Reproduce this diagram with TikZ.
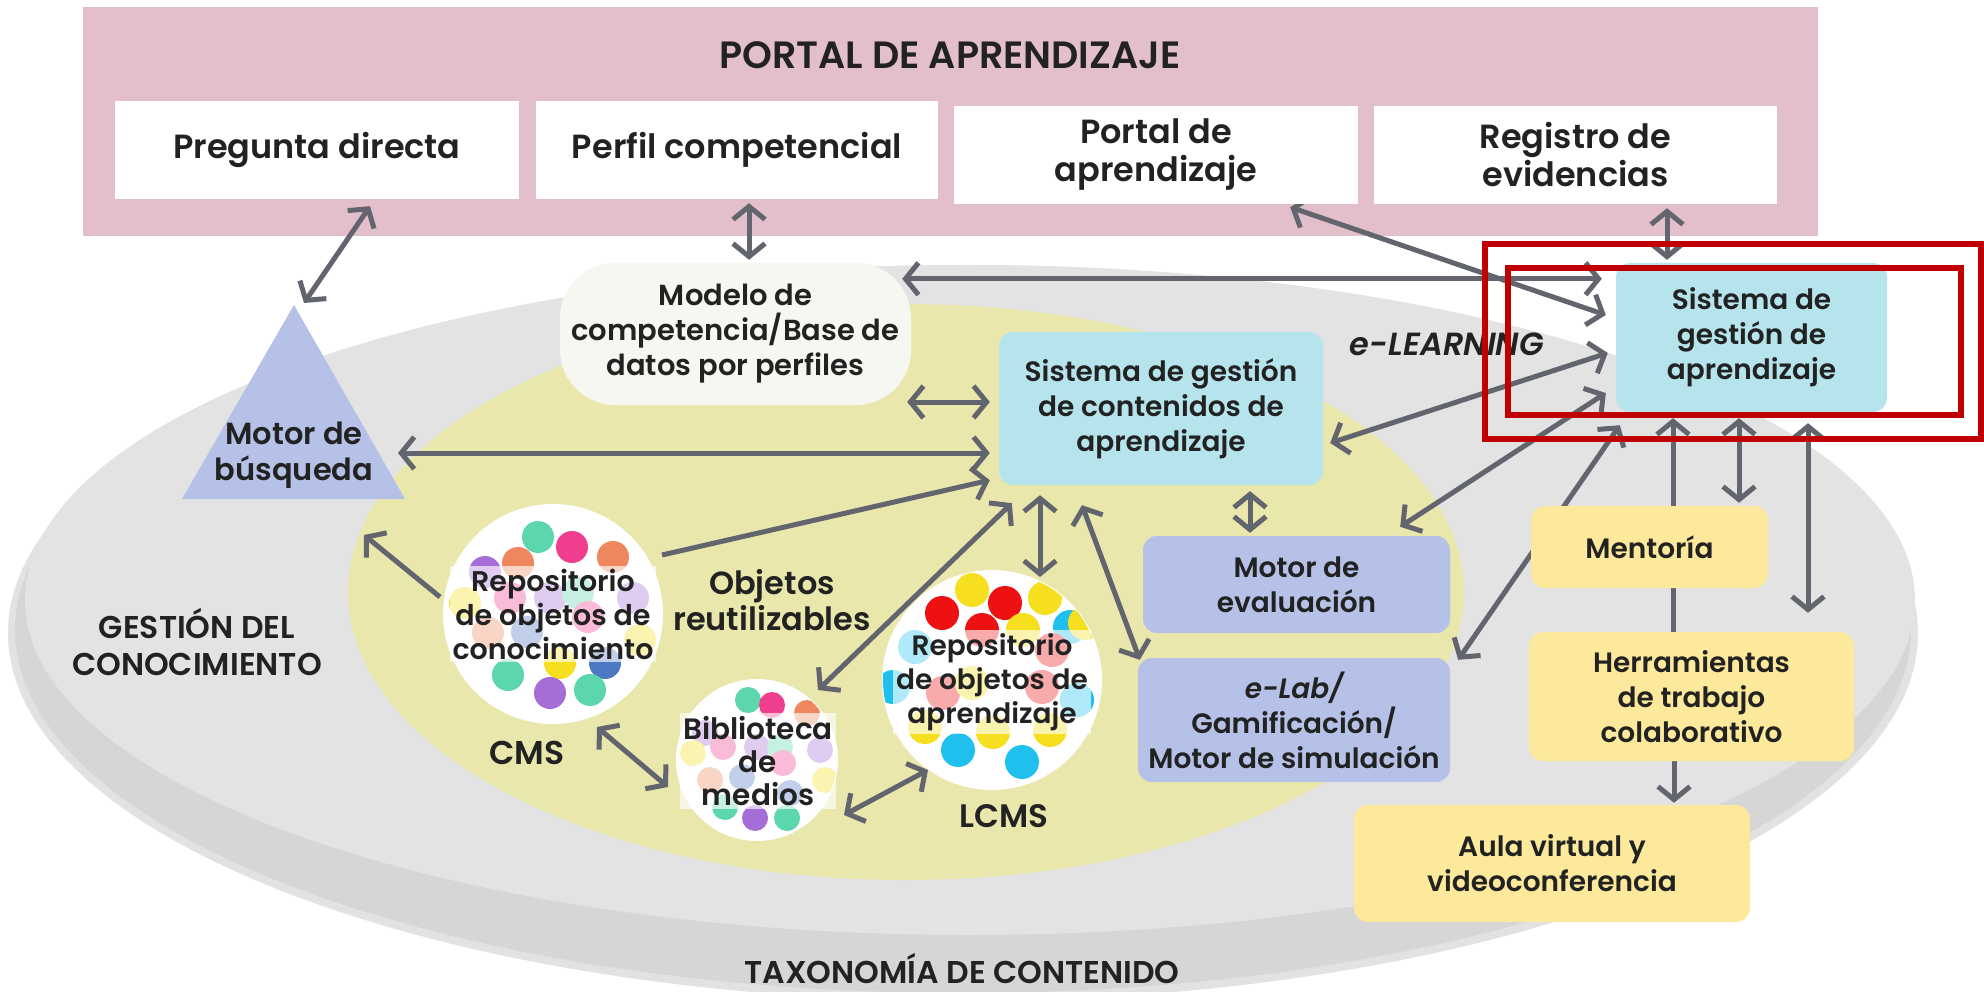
\documentclass[tikz,border=0pt]{standalone}
\usepackage{fontspec}
\setmainfont{Poppins}[BoldFont={Poppins SemiBold},BoldItalicFont={Poppins SemiBold Italic}]
\usetikzlibrary{arrows.meta,calc}

\pgfdeclarelayer{back}
\pgfdeclarelayer{conn}
\pgfdeclarelayer{top}
\pgfsetlayers{back,conn,main,top}

\definecolor{pinkband}{HTML}{E3BFCB}
\definecolor{greyell}{HTML}{E3E3E3}
\definecolor{greysha}{HTML}{D6D6D6}
\definecolor{greyshb}{HTML}{E2E2E2}
\definecolor{yell}{HTML}{EAE7AD}
\definecolor{cyanbox}{HTML}{B6E4EC}
\definecolor{peri}{HTML}{B5C1E6}
\definecolor{yelfill}{HTML}{FDE99B}
\definecolor{arrowc}{HTML}{62646E}
\definecolor{txtc}{HTML}{222222}
\definecolor{modelc}{HTML}{F7F7F2}
\definecolor{redann}{HTML}{C00000}
% dot colours
\definecolor{dgreen}{HTML}{5CD6AC}
\definecolor{dpink}{HTML}{EE3E8D}
\definecolor{dorange}{HTML}{EF875E}
\definecolor{dpurple}{HTML}{A56DD6}
\definecolor{dyellow}{HTML}{F5DF1E}
\definecolor{dblue}{HTML}{4E78C4}
\definecolor{dred}{HTML}{EE1111}
\definecolor{dsky}{HTML}{1FC0EE}

\newcommand{\blob}[4]{\fill[#3] (#1,#2) circle[radius=#4pt];}
\newcommand{\fsz}[2]{\fontsize{#1}{#2}\selectfont\bfseries}

\tikzset{
  lbl/.style={text=txtc, align=center, inner sep=0pt, font=\fsz{28}{35}},
  big/.style={font=\fsz{33.5}{38}},
  whitebox/.style={lbl, big, fill=white, minimum height=98pt},
  cbox/.style={lbl, fill=cyanbox, rounded corners=14pt},
  pbox/.style={lbl, fill=peri, rounded corners=14pt},
  yelbox/.style={lbl, fill=yelfill, rounded corners=14pt},
  repo/.style={circle, fill=white, inner sep=0pt},
  veil/.style={lbl, font=\fsz{28.5}{34}, fill=white, fill opacity=0.65, text opacity=1, inner sep=3pt},
  conn/.style={draw=arrowc, line width=5pt},
  tipb/.tip={Straight Barb[length=13pt,width=32pt]},
  bi/.style={conn, tipb-tipb},
  uni/.style={conn, -tipb},
  annot/.style={draw=redann, line width=6pt},
}

\begin{document}
\begin{tikzpicture}[x=1pt,y=-1pt]
\useasboundingbox (0,0) rectangle (1984,992);

% ---------- background areas ----------
\begin{pgfonlayer}{back}
  \fill[white] (0,0) rectangle (1984,992);
  \node[fill=pinkband, minimum width=1735pt, minimum height=229pt, inner sep=0pt] (band) at (950.5,121.5) {};
  % knowledge management ellipse with its shadow
  \fill[greyshb] (963,633) ellipse[x radius=955pt, y radius=368pt];
  \fill[greysha] (963,630) ellipse[x radius=948pt, y radius=363pt];
  \fill[greyell] (970,600) ellipse[x radius=945pt, y radius=335pt];
  % e-learning ellipse
  \fill[yell] (906,592) ellipse[x radius=558pt, y radius=288pt];
\end{pgfonlayer}

% ---------- learning portal ----------
\node[lbl, font=\fsz{38}{44}] (title) at (950,55) {PORTAL DE APRENDIZAJE};
\node[whitebox, minimum width=404pt] (preg) at (317,150) {Pregunta directa};
\node[whitebox, minimum width=402pt] (perf) at (737,150) {Perfil competencial};
\node[whitebox, minimum width=404pt] (portal) at (1156,155) {Portal de\\aprendizaje};
\node[whitebox, minimum width=403pt] (regis) at (1575.5,155) {Registro de\\evidencias};

% ---------- search engine ----------
\coordinate (tA) at (294,305);
\coordinate (tL) at (182,499);
\coordinate (tR) at (405,499);
\fill[peri] (tL) -- (tA) -- (tR) -- cycle;
\node[lbl, font=\fsz{30.5}{36}] (busq) at (294,455) {Motor de\\búsqueda};

% ---------- central systems ----------
\node[lbl, font=\fsz{29}{35}, fill=modelc, rounded corners=55pt, minimum width=351pt, minimum height=142pt] (modelo) at (735.5,334)
  {Modelo de\\competencia/Base de\\datos por perfiles};
\node[cbox, minimum width=324pt, minimum height=153pt] (scga) at (1161,408.5)
  {Sistema de gestión\\de contenidos de\\aprendizaje};
\node[cbox, minimum width=271pt, minimum height=149pt] (lms) at (1751.5,337.5)
  {Sistema de\\gestión de\\aprendizaje};
\node[pbox, minimum width=307pt, minimum height=97pt] (meval) at (1296.5,584.5)
  {Motor de\\evaluación};
\node[pbox, minimum width=312pt, minimum height=124pt] (elab) at (1294,720)
  {\itshape e-Lab/\\Gamificación/\\Motor de simulación};

% ---------- collaboration ----------
\node[yelbox, minimum width=237pt, minimum height=82pt] (ment) at (1649.5,547) {Mentoría};
\node[yelbox, minimum width=325pt, minimum height=129pt] (herr) at (1691.5,696.5)
  {Herramientas\\de trabajo\\colaborativo};
\node[yelbox, minimum width=396pt, minimum height=117pt] (aula) at (1552,863.5)
  {Aula virtual y\\videoconferencia};

% ---------- repositories ----------
\node[repo, minimum size=220pt] (rcon) at (553,614) {};
\begin{scope}
  \clip (rcon.center) circle[radius=109pt];
  \blob{538}{537}{dgreen}{16}\blob{572}{547}{dpink}{16}\blob{613}{557}{dorange}{16}
  \blob{518}{563}{dorange}{16}\blob{485}{572}{dpurple}{16}\blob{465}{603}{dyellow}{16}
  \blob{510}{598}{dpink}{16}\blob{550}{598}{dpurple}{16}\blob{578}{593}{dgreen}{16}
  \blob{633}{598}{dpurple}{16}\blob{588}{617}{dpink}{16}\blob{488}{633}{dorange}{16}
  \blob{527}{632}{dblue}{16}\blob{640}{640}{dyellow}{16}\blob{560}{663}{dyellow}{16}
  \blob{605}{663}{dblue}{16}\blob{508}{675}{dgreen}{16}\blob{550}{693}{dpurple}{16}
  \blob{590}{690}{dgreen}{16}
\end{scope}
\node[veil] (rconT) at (553,614) {Repositorio\\de objetos de\\conocimiento};

\node[repo, minimum size=162pt] (bib) at (757,760) {};
\begin{scope}
  \clip (bib.center) circle[radius=80pt];
  \blob{748}{700}{dgreen}{13}\blob{772}{705}{dpink}{13}\blob{807}{713}{dorange}{13}
  \blob{705}{733}{dpurple}{13}\blob{723}{747}{dpink}{13}\blob{757}{747}{dpurple}{13}
  \blob{780}{747}{dgreen}{13}\blob{693}{753}{dyellow}{13}\blob{820}{750}{dpurple}{13}
  \blob{783}{763}{dpink}{13}\blob{710}{780}{dorange}{13}\blob{742}{777}{dblue}{13}
  \blob{825}{780}{dyellow}{13}\blob{790}{793}{dblue}{13}\blob{725}{807}{dgreen}{13}
  \blob{755}{818}{dpurple}{13}\blob{787}{818}{dgreen}{13}
\end{scope}
\node[veil, font=\fsz{29.5}{33}] (bibT) at (758,761) {Biblioteca\\de\\medios};

\node[repo, minimum size=220pt] (rlcms) at (992,680) {};
\begin{scope}
  \clip (rlcms.center) circle[radius=109pt];
  \blob{972}{590}{dyellow}{17}\blob{942}{613}{dred}{17}\blob{1005}{603}{dred}{17}
  \blob{1045}{598}{dyellow}{17}\blob{982}{630}{dred}{17}\blob{1023}{630}{dyellow}{17}
  \blob{1070}{627}{dsky}{17}\blob{1085}{623}{dyellow}{17}\blob{915}{647}{dsky}{17}
  \blob{1052}{650}{dred}{17}\blob{893}{687}{dsky}{17}\blob{943}{693}{dred}{17}
  \blob{972}{683}{dyellow}{17}\blob{1042}{687}{dred}{17}\blob{1077}{700}{dsky}{17}
  \blob{925}{727}{dyellow}{17}\blob{993}{732}{dyellow}{17}\blob{1050}{730}{dyellow}{17}
  \blob{958}{750}{dsky}{17}\blob{1022}{762}{dsky}{17}
\end{scope}
\node[veil, font=\fsz{28}{34}] (rlcmsT) at (992,682) {Repositorio\\de objetos de\\aprendizaje};

% ---------- free labels ----------
\node[lbl, font=\fsz{32}{36}] (objr) at (772,600) {Objetos\\reutilizables};
\node[lbl, font=\fsz{33}{38}] (cms) at (527,753) {CMS};
\node[lbl, font=\fsz{32.5}{38}] (lcms) at (1004,816) {LCMS};
\node[lbl, font=\fsz{31.5}{37}] (gestion) at (197,642) {GESTIÓN DEL\\CONOCIMIENTO};
\node[lbl, font=\fsz{31.5}{37}] (taxo) at (962,969) {TAXONOMÍA DE CONTENIDO};
\node[lbl, font=\fsz{32}{37}\itshape] (elearn) at (1447,344) {e-LEARNING};

% ---------- connectors ----------
\begin{pgfonlayer}{conn}
  \draw[bi] ($(tA)+(10,-2)$) -- ($(preg.south)+(53,7)$);
  \draw[bi] ($(perf.south)+(12,4)$) -- ($(modelo.north)+(13.5,-3)$);
  \draw[bi] ($(modelo.north east)+(-9,16)$) -- ($(lms.north west)+(-14,16)$);
  \draw[bi] ($(portal.south east)+(-68,3)$) -- ($(lms.west)+(-10,-22.5)$);
  \draw[bi] ($(regis.south)+(91.5,4)$) -- ($(lms.north)+(-84.5,-3)$);
  \draw[bi] ($(modelo.east)+(-4,68)$) -- ($(scga.west)+(-9,-6.5)$);
  \draw[bi] ($(tA)+(104,148)$) -- ($(scga.west)+(-9,44.5)$);
  \draw[uni] ($(rcon.center)+(109,-59)$) -- ($(scga.south west)+(-9,-5)$);
  \draw[uni] ($(rcon.center)+(-113,-17)$) -- ($(tA)+(70,230)$);
  \draw[bi] ($(bib.center)+(61,-70)$) -- ($(scga.south west)+(13,18)$);
  \draw[bi] ($(scga.south)+(-121,10)$) -- ($(rlcms.center)+(48,-103)$);
  \draw[bi] ($(scga.south)+(-79,20)$) -- ($(elab.north west)+(2,2)$);
  \draw[bi] ($(scga.south)+(89,6)$) -- ($(meval.north)+(-46.5,-3)$);
  \draw[bi] ($(rcon.center)+(44,113)$) -- ($(bib.center)+(-89,27)$);
  \draw[bi] ($(bib.center)+(87,55)$) -- ($(rlcms.center)+(-64,90)$);
  \draw[bi] ($(lms.west)+(-8,15.5)$) -- ($(scga.east)+(7,34.5)$);
  \draw[bi] ($(lms.west)+(-10,55.5)$) -- ($(meval.north east)+(-50,-9)$);
  \draw[bi] ($(lms.south west)+(4,13)$) -- ($(elab.north east)+(8,2)$);
  \draw[uni] ($(herr.north)+(-18.5,0)$) -- ($(lms.south)+(-78.5,6)$);
  \draw[uni] ($(herr.south)+(-17.5,0)$) -- ($(aula.north)+(122,-2)$);
  \draw[bi] ($(lms.south)+(-12.5,6)$) -- ($(ment.north)+(89.5,-3)$);
  \draw[bi] ($(lms.south)+(56.5,11)$) -- ($(herr.north)+(116.5,-19)$);
\end{pgfonlayer}

% ---------- highlight frames ----------
\begin{pgfonlayer}{top}
  \draw[annot] (1485,244) rectangle (1981,439);
  \draw[annot] (1508,268) rectangle (1961,415);
\end{pgfonlayer}
\end{tikzpicture}
\end{document}
